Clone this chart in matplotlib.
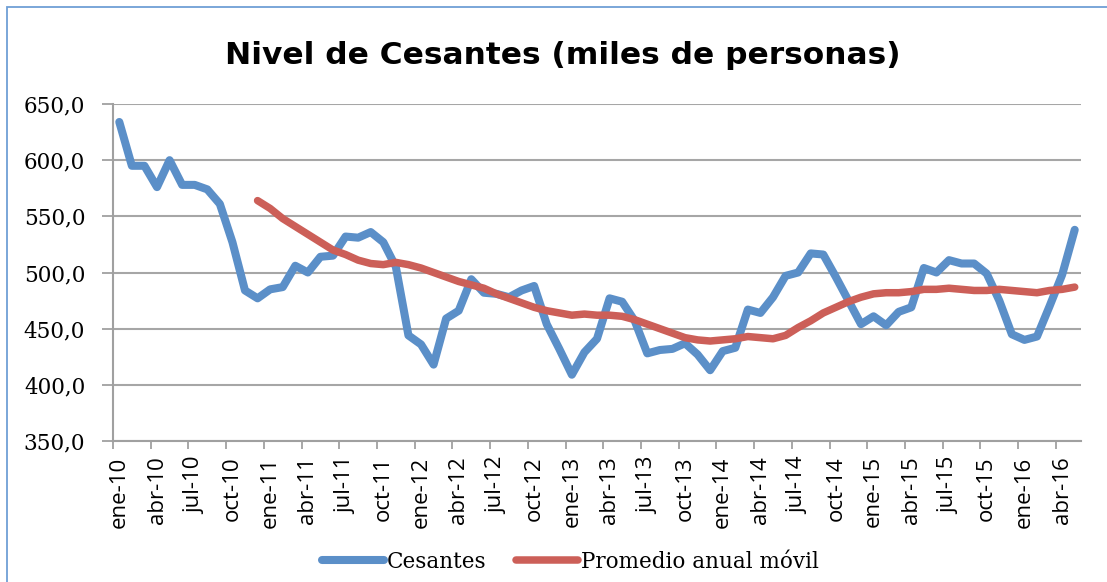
import matplotlib
matplotlib.use("Agg")
import matplotlib.pyplot as plt
import numpy as np

# monthly data ene-10 .. may-16
meses = ["ene", "feb", "mar", "abr", "may", "jun", "jul", "ago", "sep", "oct", "nov", "dic"]
fechas = [f"{meses[m]}-{a % 100:02d}" for a in range(2010, 2017) for m in range(12)][:77]

cesantes = [634, 595, 595, 576, 600, 578, 578, 574, 561, 527,
            484, 477, 485, 487, 506, 500, 514, 515, 532, 531,
            536, 527, 505, 444, 436, 418, 459, 466, 494, 482,
            481, 478, 484, 488, 454, 432, 409, 429, 441, 477,
            474, 457, 428, 431, 432, 437, 427, 413, 430, 433,
            467, 464, 478, 497, 500, 517, 516, 496, 475, 454,
            461, 453, 465, 469, 504, 500, 511, 508, 508, 499,
            475, 445, 440, 443, 470, 498, 538]

promedio = [None] * 11 + [
    564, 557, 548, 541, 534, 527, 520, 516, 511, 508,
    507, 509, 507, 504, 500, 496, 492, 489, 486, 481,
    477, 473, 469, 466, 464, 462, 463, 462, 462, 461,
    458, 454, 450, 446, 442, 440, 439, 440, 441, 443,
    442, 441, 444, 451, 457, 464, 469, 474, 478, 481,
    482, 482, 483, 485, 485, 486, 485, 484, 484, 485,
    484, 483, 482, 484, 485, 487]

x = np.arange(len(cesantes))
prom = np.array([np.nan if v is None else v for v in promedio], dtype=float)

fig = plt.figure(figsize=(11.07, 5.82), dpi=100)
ax = fig.add_axes([113 / 1107, 1 - 441 / 582, 968 / 1107, 337 / 582])

ax.plot(x, cesantes, color="#5b8fc8", lw=5.8, solid_capstyle="round",
        solid_joinstyle="round", label="Cesantes")
ax.plot(x, prom, color="#cc5f58", lw=5.4, solid_capstyle="round",
        solid_joinstyle="round", label="Promedio anual móvil")

ax.set_xlim(-0.5, len(cesantes) - 0.5)
ax.set_ylim(350, 650)

yt = np.arange(350, 651, 50)
ax.set_yticks(yt)
ax.set_yticklabels([f"{v:.1f}".replace(".", ",") for v in yt],
                   family="DejaVu Serif", fontsize=15.5)
ax.tick_params(axis="y", length=8, width=1.3, color="#a0a0a0", pad=12)
ax.yaxis.grid(True, color="#a6a6a6", lw=1.5)
ax.set_axisbelow(True)

ax.set_xticks(x[::3])
ax.set_xticklabels(fechas[::3], rotation=90, family="Open Sans", fontsize=16)
ax.set_xticks(np.arange(-0.5, len(cesantes), 3), minor=True)
ax.tick_params(axis="x", which="major", length=0, pad=11)
ax.tick_params(axis="x", which="minor", length=6, width=1.3, color="#a0a0a0")

for s in ["top", "right"]:
    ax.spines[s].set_visible(False)
for s in ["left", "bottom"]:
    ax.spines[s].set_color("#a0a0a0")
    ax.spines[s].set_linewidth(1.5)

fig.text(0.508, 1 - 55 / 582, "Nivel de Cesantes (miles de personas)",
         ha="center", va="center", fontsize=22.5, fontweight="bold",
         family="DejaVu Sans")

fig.legend(loc="center", bbox_to_anchor=(0.515, 1 - 562 / 582), ncol=2,
           frameon=False, prop={"family": "DejaVu Serif", "size": 15.5},
           handlelength=2.9, handletextpad=0.1, columnspacing=1.4)

fig.patches.append(plt.Rectangle((7 / 1107, -0.1), 1.2, 1.1 - 7 / 582,
                                 transform=fig.transFigure, fill=False,
                                 edgecolor="#6f9fd6", lw=1.3))

fig.savefig("out.png", dpi=100)
